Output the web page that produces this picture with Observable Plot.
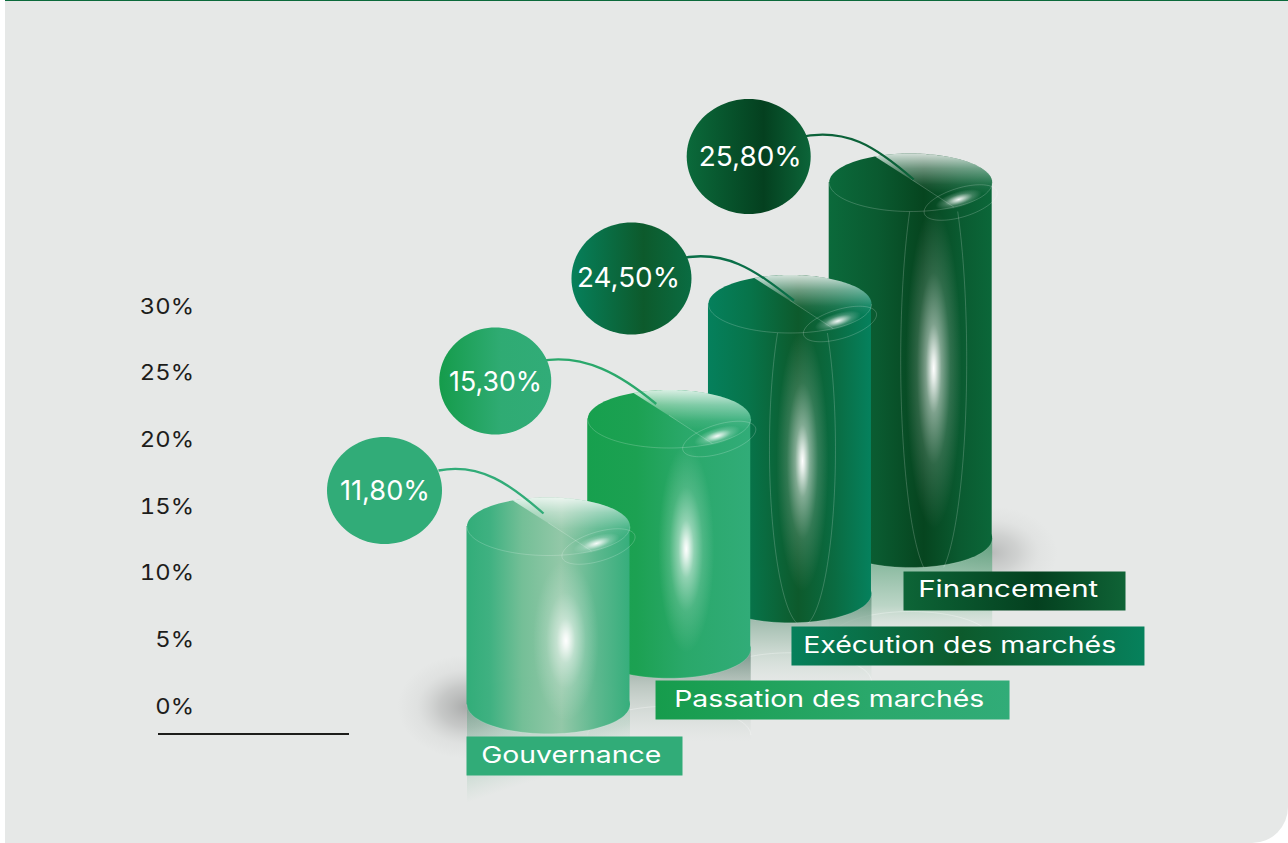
<!DOCTYPE html>
<html lang="fr">
<head>
<meta charset="utf-8">
<title>Répartition par domaine</title>
<script src="https://cdn.jsdelivr.net/npm/d3@7"></script>
<script src="https://cdn.jsdelivr.net/npm/@observablehq/plot@0.6"></script>
<style>
  html, body { margin: 0; background: #fff; }
  #stage { position: relative; width: 1288px; height: 843px; overflow: hidden; }
  #panel { position: absolute; left: 5px; top: 0; right: 0; bottom: 0; background: #e6e8e7;
           border-top: 1px solid #0b6a3b; box-sizing: border-box; border-bottom-right-radius: 36px; }
  #stage svg { position: absolute; left: 0; top: 0; }
</style>
</head>
<body>
<div id="stage"><div id="panel"></div></div>
<script>
// Chart values
const categories = ["Gouvernance", "Passation des marchés", "Exécution des marchés", "Financement"];
const values = [11.8, 15.3, 24.5, 25.8];
const axisTicks = [0, 5, 10, 15, 20, 25, 30];

// Colour ramps, left to right across each cylinder
const bodyStops = [
  [[0, "#32ad79"], [.14, "#3fb181"], [.34, "#74bf97"], [.58, "#93c8a8"], [.8, "#5cb88e"], [1, "#36ae7c"]],
  [[0, "#17a04e"], [.3, "#1ca152"], [.6, "#2aa86a"], [1, "#31ac78"]],
  [[0, "#05805c"], [.25, "#07744a"], [.55, "#0d5a2c"], [.78, "#0a6c42"], [1, "#05815d"]],
  [[0, "#0b6a3b"], [.3, "#0a5a30"], [.58, "#06451f"], [.8, "#0a5a30"], [1, "#0b6739"]]
];
const bubbleStops = [
  [[0, "#31ac78"], [1, "#31ac78"]],
  [[0, "#159c4b"], [.55, "#2fab73"], [1, "#31ac78"]],
  [[0, "#06805b"], [.6, "#0d5a2c"], [1, "#0a6c42"]],
  [[0, "#0b6a3b"], [.62, "#04401f"], [1, "#0c6539"]]
];
const labelStops = [
  [[0, "#31ac78"], [1, "#31ac78"]],
  [[0, "#169c4c"], [.6, "#2aa86b"], [1, "#31ac78"]],
  [[0, "#06805b"], [.48, "#0d5a2c"], [.75, "#0a6c42"], [1, "#06815c"]],
  [[0, "#0d6537"], [.6, "#04401f"], [1, "#0f6336"]]
];
const leaderColors = ["#31ac78", "#2aa86b", "#0a6f48", "#0b6239"];

// Placement of the annotations around each cylinder
const bubbles = [
  {dx: -164, dy: -36, rx: 57.5, ry: 53.5, textDx: -163.5, textDy: -35, textWidth: 90},
  {dx: -174, dy: -38, rx: 56, ry: 53.5, textDx: -173.7, textDy: -36.5, textWidth: 93},
  {dx: -158.5, dy: -25.5, rx: 60, ry: 56, textDx: -161.5, textDy: -25.5, textWidth: 103},
  {dx: -162, dy: -26, rx: 62, ry: 57.5, textDx: -160.5, textDy: -25, textWidth: 103}
];
const leaders = [
  [[-110, -56], [-68, -64], [-38, -42], [-5, -13]],
  [[-129, -58], [-85, -66], [-48, -44], [-13, -15]],
  [[-113, -45], [-65, -56], [-35, -34], [4, -3.5]],
  [[-113, -45], [-65, -56], [-35, -36], [3, -3]]
];
const labelBoxes = [
  {dx: -82, dy: 31.7, w: 216, h: 39, textDx: -67.3, textDy: 50.5, textWidth: 180},
  {dx: -13.7, dy: 31.3, w: 354, h: 39, textDx: 5, textDy: 50, textWidth: 310},
  {dx: 1.5, dy: 32.7, w: 353, h: 39, textDx: 13.2, textDy: 52, textWidth: 313},
  {dx: -7.2, dy: 33, w: 222, h: 39, textDx: 7.5, textDy: 51.5, textWidth: 180}
];
const glowShift = [{dx: 17.5, dy: 25, rx: 33}, {dx: 17, dy: 15, rx: 28}, {dx: 12.5, dy: 12, rx: 26}, {dx: 23, dy: 8, rx: 28}];
const reflections = [
  {height: 98, stops: [[0, "#4a9a76", .42], [.56, "#7fb89b", .24], [.77, "#9cc6ae", 0]], angled: true},
  {height: 92, arcDy: 86, stops: [[0, "#66857a", .85], [.4, "#93a89c", .5], [1, "#c0cfc6", 0]]},
  {height: 92, arcDy: 88, stops: [[0, "#5c8f78", .85], [.5, "#9fbdac", .6], [1, "#c8dccf", 0]]},
  {height: 96, arcDy: 102, stops: [[0, "#4f9a72", .85], [.7, "#a9cdb8", .7], [1, "#c8dccf", 0]]}
];
const shadows = [
  {row: 0, dx: -81, dy: 2, rx: 70, ry: 52, opacity: .36},
  {row: 3, dx: 81, dy: 14, rx: 66, ry: 46, opacity: .26}
];

// Cylinder dimensions on screen
const halfWidthPx = 81.5;
const capRy = 29;
const xRange = [548, 910.2];
const halfWidth = halfWidthPx / ((xRange[1] - xRange[0]) / 3);

// The ground steps back one row per category; above the ground, y reads the value.
const rows = categories.map((_, i) => i);
const yScale = {
  type: "linear",
  domain: [...rows, ...values],
  range: [704.3, 648.7, 593.3, 538, 526, 418.5, 303.5, 182]
};
const yOf = Plot.scale({y: yScale});

const cylinders = categories.map((name, i) => ({
  name, i, value: values[i],
  text: values[i].toFixed(2).replace(".", ",") + "%",
  height: yOf.apply(i) - yOf.apply(values[i])
}));

const stopTags = stops => stops.map(([o, c, a]) =>
  `<stop offset="${o}" stop-color="${c}"${a === undefined ? "" : ` stop-opacity="${a}"`}/>`).join("");
const ramp = (id, stops) => `<linearGradient id="${id}">${stopTags(stops)}</linearGradient>`;

function gradients() {
  const defs = document.createElementNS("http://www.w3.org/2000/svg", "defs");
  defs.innerHTML = [
    ...bodyStops.map((s, i) => ramp(`body${i}`, s)),
    ...bubbleStops.map((s, i) => ramp(`bubble${i}`, s)),
    ...labelStops.map((s, i) => ramp(`label${i}`, s)),
    ...reflections.map((r, i) =>
      `<linearGradient id="reflect${i}" x1="0" y1="0" x2="${r.angled ? .55 : 0}" y2="1">${stopTags(r.stops)}</linearGradient>`),
    `<radialGradient id="shadow">${stopTags([[0, "#3c3c3c", 1], [.4, "#5a5a5a", .62], [.72, "#8a8a8a", .2], [1, "#8a8a8a", 0]])}</radialGradient>`,
    `<linearGradient id="sheen" x1="0" y1="0" x2="0" y2="1">${stopTags([[0, "#fff", .82], [.28, "#fff", .4], [.58, "#fff", .08], [.75, "#fff", 0]])}</linearGradient>`,
    `<radialGradient id="glow">${stopTags([[0, "#fff", 1], [.08, "#fff", .88], [.28, "#fff", .48], [.6, "#fff", .16], [1, "#fff", 0]])}</radialGradient>`,
    `<radialGradient id="spark" gradientUnits="userSpaceOnUse" cx="0" cy="0" r="1" gradientTransform="rotate(-17) scale(24 8)">${stopTags([[0, "#fff", .95], [.22, "#fff", .7], [.6, "#fff", .22], [1, "#fff", 0]])}</radialGradient>`
  ].join("");
  return defs;
}

// Outline helpers: each draws in the local pixel space of a Plot.dot symbol
const arc = (rx, ry, from = 0, to = 2 * Math.PI, rot = 0) => ({
  draw(ctx) {
    const n = 96, c = Math.cos(rot), s = Math.sin(rot);
    for (let k = 0; k <= n; ++k) {
      const t = from + (to - from) * k / n;
      const x = rx * Math.cos(t), y = ry * Math.sin(t);
      const px = x * c - y * s, py = x * s + y * c;
      k ? ctx.lineTo(px, py) : ctx.moveTo(px, py);
    }
  }
});
const closedArc = (...args) => ({
  draw(ctx) { arc(...args).draw(ctx); ctx.closePath(); }
});
const box = (w, h) => ({
  draw(ctx) { ctx.moveTo(0, 0); ctx.lineTo(w, 0); ctx.lineTo(w, h); ctx.lineTo(0, h); ctx.closePath(); }
});
const twoArcs = (rx, ry, top, bottom) => ({
  draw(ctx) {
    const a = Math.asin(top / ry), b = Math.asin(bottom / ry);
    arc(rx, ry, a, b).draw(ctx);
    arc(-rx, ry, a, b).draw(ctx);
  }
});
const bezier = pts => ({
  draw(ctx) {
    ctx.moveTo(...pts[0]);
    ctx.bezierCurveTo(...pts[1], ...pts[2], ...pts[3]);
  }
});

const rad = d => d * Math.PI / 180;
const pale = {fill: "none", stroke: "#fff", strokeOpacity: .28, strokeWidth: .7};
const atFloor = (c, symbol, o) => Plot.dot([c], {x: "i", y: "i", r: 1, symbol, ...o});
const atTop = (c, symbol, o) => Plot.dot([c], {x: "i", y: "value", r: 1, symbol, ...o});

// Stretches a text mark to its measured width
const fit = width => (index, scales, vals, dims, ctx, next) => {
  const g = next(index, scales, vals, dims, ctx);
  d3.select(g).selectAll("text").attr("textLength", width).attr("lengthAdjust", "spacingAndGlyphs");
  return g;
};

function groundMarks() {
  const marks = [];
  for (const s of shadows) {
    marks.push(Plot.dot([cylinders[s.row]], {x: "i", y: "i", r: 1, symbol: closedArc(s.rx, s.ry),
      dx: s.dx, dy: s.dy, fill: "url(#shadow)", fillOpacity: s.opacity, stroke: "none"}));
  }
  [...cylinders].reverse().forEach(c => {
    const r = reflections[c.i];
    marks.push(atFloor(c, box(2 * halfWidthPx, r.height), {dx: -halfWidthPx, fill: `url(#reflect${c.i})`, stroke: "none"}));
    if (r.arcDy) marks.push(atFloor(c, arc(halfWidthPx, capRy, Math.PI, 2 * Math.PI), {dy: r.arcDy, ...pale, strokeOpacity: .45}));
  });
  return marks;
}

function cylinderMarks(c) {
  const g = glowShift[c.i];
  const mid = -c.height / 2;
  const lensTop = -c.height / 2 + capRy, lensBottom = c.height / 2 + capRy;
  const lensRy = .61 * c.height;
  const chordFrom = rad(-116), chordTo = rad(58);
  const chord = {
    draw(ctx) {
      const x = t => halfWidthPx * Math.cos(t), y = t => capRy * Math.sin(t);
      ctx.moveTo(x(chordTo), y(chordTo));
      ctx.lineTo((x(chordTo) + x(chordFrom)) / 2 - 4, (y(chordTo) + y(chordFrom)) / 2 - 3);
    }
  };
  return [
    Plot.rect([c], {x1: d => d.i - halfWidth, x2: d => d.i + halfWidth, y1: "i", y2: "value", fill: `url(#body${c.i})`}),
    atFloor(c, closedArc(halfWidthPx, capRy), {fill: `url(#body${c.i})`, stroke: "none"}),
    atFloor(c, arc(halfWidthPx, capRy, 0, Math.PI), {...pale, strokeOpacity: .22}),
    atFloor(c, closedArc(g.rx, .45 * c.height), {dx: g.dx, dy: mid + g.dy, fill: "url(#glow)", stroke: "none"}),
    atFloor(c, twoArcs(33, lensRy, lensTop, lensBottom), {dx: g.dx, dy: mid, ...pale}),
    atTop(c, closedArc(halfWidthPx, capRy), {fill: `url(#body${c.i})`, stroke: "none"}),
    atTop(c, closedArc(halfWidthPx, capRy, chordFrom, chordTo), {fill: "url(#sheen)", stroke: "none"}),
    atTop(c, arc(halfWidthPx, capRy, 0, Math.PI), pale),
    atTop(c, chord, pale),
    atTop(c, closedArc(24, 8, 0, 2 * Math.PI, rad(-17)), {dx: 48, dy: 17, fill: "url(#spark)", stroke: "none"}),
    atTop(c, closedArc(38, 14.5, 0, 2 * Math.PI, rad(-17)), {dx: 50, dy: 20, ...pale})
  ];
}

function bubbleMarks(c) {
  const b = bubbles[c.i];
  return [
    atTop(c, bezier(leaders[c.i]), {fill: "none", stroke: leaderColors[c.i], strokeWidth: 2.3}),
    atTop(c, closedArc(b.rx, b.ry), {dx: b.dx, dy: b.dy, fill: `url(#bubble${c.i})`, stroke: "none"}),
    Plot.text([c], {x: "i", y: "value", text: "text", dx: b.textDx, dy: b.textDy, fill: "#fff",
      fontFamily: "Inter", fontSize: 27.5, fontWeight: 400, render: fit(b.textWidth)})
  ];
}

function labelMarks(c) {
  const l = labelBoxes[c.i];
  return [
    atFloor(c, box(l.w, l.h), {dx: l.dx, dy: l.dy, fill: `url(#label${c.i})`, stroke: "none"}),
    Plot.text([c], {x: "i", y: "i", text: "name", dx: l.textDx, dy: l.textDy, fill: "#fff", textAnchor: "start",
      fontFamily: "Inter", fontSize: 23, fontWeight: 400, render: fit(l.textWidth)})
  ];
}

const stage = document.getElementById("stage");
const frame = {width: 1288, height: 843, margin: 0, style: {background: "transparent", overflow: "visible"}};

// Percentage axis and its base line
const axisPlot = Plot.plot({
  ...frame,
  x: {axis: null},
  y: {domain: [0, 30], range: [706, 306], axis: null},
  marks: [
    Plot.axisY({ticks: axisTicks, tickFormat: d => d + "%", tickSize: 0, tickPadding: 0, anchor: "left",
      dx: 193.5, fill: "#1d1d1b", fontFamily: "Inter", fontSize: 22, fontWeight: 400}),
    Plot.ruleY([0], {dy: 27.5, insetLeft: 158, insetRight: 939, stroke: "#1d1d1b", strokeWidth: 2})
  ]
});

// The cylinders, drawn from the back row to the front row
const cylinderPlot = Plot.plot({
  ...frame,
  x: {domain: [0, 3], range: xRange, axis: null},
  y: {...yScale, axis: null},
  marks: [
    gradients,
    ...groundMarks(),
    ...[...cylinders].reverse().flatMap(cylinderMarks),
    ...cylinders.flatMap(bubbleMarks),
    ...[...cylinders].reverse().flatMap(labelMarks)
  ]
});

stage.append(axisPlot, cylinderPlot);

// The tick labels run a little wider than the face's natural set width
d3.select(axisPlot).selectAll("[aria-label='y-axis tick label'] text").each(function () {
  this.setAttribute("textLength", this.getComputedTextLength() * 1.08);
  this.setAttribute("lengthAdjust", "spacingAndGlyphs");
});
</script>
</body>
</html>
